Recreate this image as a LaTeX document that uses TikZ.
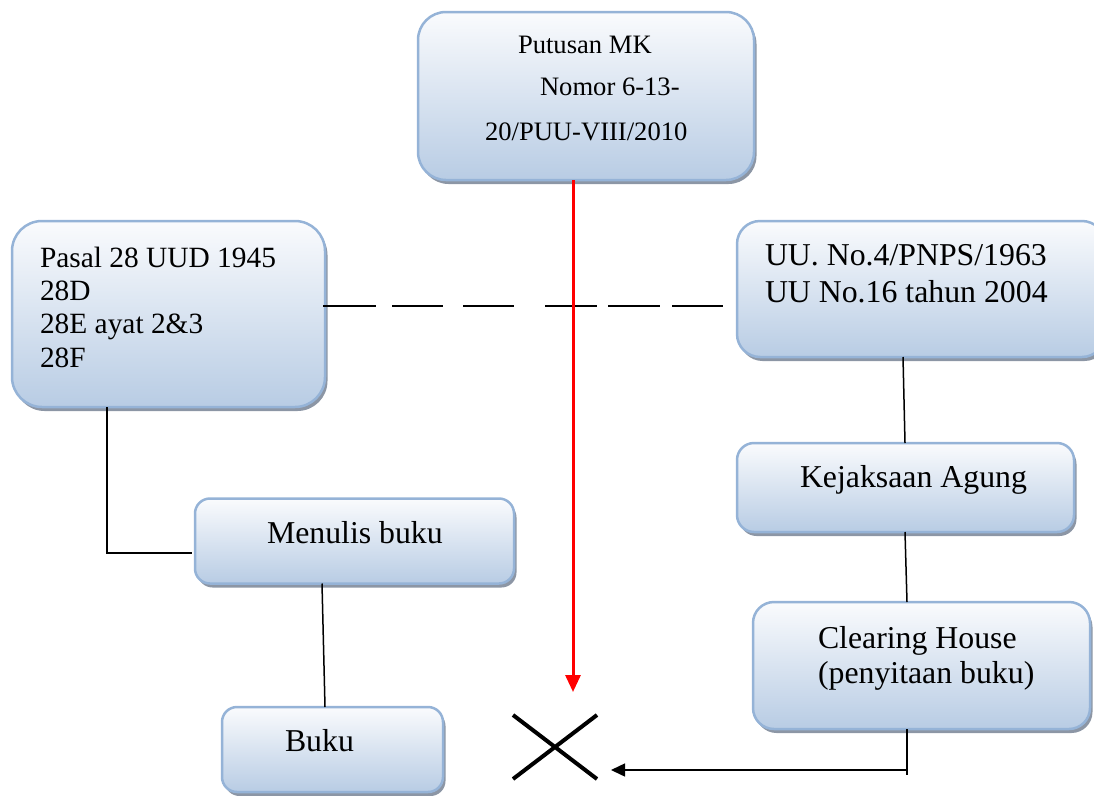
\documentclass[tikz,border=0pt]{standalone}
\usepackage{fontspec}
\setmainfont{Liberation Serif}
\usetikzlibrary{shadows,arrows.meta,shapes.misc}

\definecolor{panelline}{RGB}{149,179,215}
\definecolor{paneltop}{RGB}{250,251,253}
\definecolor{panelbottom}{RGB}{184,204,228}
\definecolor{panelshadow}{RGB}{140,150,165}

\tikzset{
  panel/.style={draw=panelline, line width=2.5pt, top color=paneltop, bottom color=panelbottom,
    inner sep=0pt, outer sep=0pt,
    drop shadow={shadow xshift=2.5pt, shadow yshift=-4pt, fill=panelshadow, opacity=1}},
  txt/.style={anchor=base west, inner sep=0pt, outer sep=0pt, font=\fontsize{31.8}{36}\selectfont},
  txtmid/.style={txt, font=\fontsize{29.4}{33}\selectfont},
  txtsmall/.style={txt, font=\fontsize{26.6}{30}\selectfont},
  link/.style={draw=black, line width=1.5pt},
}

\begin{document}
\begin{tikzpicture}[x=1pt,y=-1pt]
\useasboundingbox (0,0) rectangle (1094,795);

% boxes
\node[panel, minimum width=336pt, minimum height=168pt, rounded corners=28pt] (putusan) at (586,96) {};
\node[panel, minimum width=313pt, minimum height=186pt, rounded corners=30pt] (pasal) at (168.5,314) {};
\node[panel, minimum width=368pt, minimum height=136pt, rounded corners=23pt] (uu) at (921,289) {};
\node[panel, minimum width=337pt, minimum height=89pt, rounded corners=17pt] (kejaksaan) at (905.5,487.5) {};
\node[panel, minimum width=337pt, minimum height=127pt, rounded corners=21pt] (clearing) at (921.5,665.5) {};
\node[panel, minimum width=319pt, minimum height=85pt, rounded corners=15pt] (menulis) at (354.5,541) {};
\node[panel, minimum width=221pt, minimum height=85pt, rounded corners=15pt] (buku) at (332.5,749.5) {};

% texts
\node[txtsmall] (putusan1) at (518,53) {Putusan MK};
\node[txtsmall] (putusan2) at (540,95) {Nomor 6-13-};
\node[txtsmall] (putusan3) at (485,140) {20/PUU-VIII/2010};

\node[txtmid] (pasal1) at (40,267) {Pasal 28 UUD 1945};
\node[txtmid] (pasal2) at (40,300) {28D};
\node[txtmid] (pasal3) at (40,333) {28E ayat 2\&3};
\node[txtmid] (pasal4) at (40,367) {28F};

\node[txt] (uu1) at (765,265) {UU. No.4/PNPS/1963};
\node[txt] (uu2) at (765,302) {UU No.16 tahun 2004};

\node[txt] (kejaksaan1) at (800,487) {Kejaksaan Agung};

\node[txt] (clearing1) at (818,648) {Clearing House};
\node[txt] (clearing2) at (818,683) {(penyitaan buku)};

\node[txt] (menulis1) at (267,543) {Menulis buku};
\node[txt] (buku1) at (285,751) {Buku};

% cross mark
\node[cross out, draw=black, line width=4pt, minimum width=84pt, minimum height=64pt,
      inner sep=0pt, outer sep=0pt] (xmark) at (555,747) {};

% free ends
\coordinate (dashend) at (723,306);
\coordinate (redtip) at (573,692);
\coordinate (clearfoot) at (907,775);
\coordinate (clearturn) at (907,770);
\coordinate (xtip) at (611,770);

% connectors
\draw[link, dash pattern=on 53pt off 16pt on 51pt off 20pt on 51pt off 31pt on 52pt off 11pt on 52pt off 12pt on 51pt]
  ([xshift=-2pt,yshift=8pt]pasal.east) -- (dashend);
\draw[link] ([xshift=-61.5pt]pasal.south) |- ([yshift=-12pt,xshift=-3pt]menulis.west);
\draw[link] ([xshift=-32.5pt]menulis.south) -- ([xshift=-7.5pt]buku.north);
\draw[link] ([xshift=-18pt]uu.south) -- ([xshift=-0.5pt]kejaksaan.north);
\draw[link] ([xshift=-0.5pt]kejaksaan.south) -- ([xshift=-14.5pt]clearing.north);
\draw[link] ([xshift=-14.5pt]clearing.south) -- (clearfoot);
\draw[link, -{Triangle[length=14pt,width=13pt]}] (clearturn) -- (xtip);
\draw[red, line width=3pt, -{Triangle[length=17pt,width=15pt]}] ([xshift=-13pt]putusan.south) -- (redtip);
\end{tikzpicture}
\end{document}
